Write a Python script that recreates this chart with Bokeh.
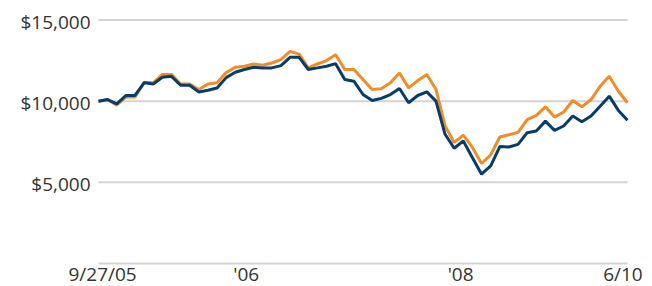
from bokeh.plotting import figure
from bokeh.models import Range1d, ColumnDataSource, Label
from bokeh.embed import file_html
from bokeh.resources import INLINE

# Growth of $10,000 (monthly points)
fund = [10000, 10100, 9830, 10350, 10350, 11130, 11060, 11470, 11530, 10980,
        10980, 10570, 10670, 10810, 11450, 11780, 11950, 12090, 12050, 12050,
        12190, 12700, 12700, 11950, 12050, 12150, 12310, 11330, 11230, 10410,
        10040, 10170, 10410, 10780, 9900, 10350, 10570, 10000, 7960, 7100,
        7550, 6520, 5500, 6010, 7200, 7180, 7340, 8060, 8160, 8770,
        8200, 8470, 9080, 8730, 9080, 9690, 10310, 9430, 8820]
index = [10000, 10100, 9750, 10250, 10250, 11170, 11130, 11650, 11650, 11060,
         11060, 10720, 11060, 11130, 11760, 12090, 12150, 12290, 12210, 12350,
         12560, 13070, 12900, 12050, 12290, 12500, 12860, 11950, 11950, 11330,
         10720, 10760, 11130, 11740, 10820, 11270, 11640, 10720, 8470, 7460,
         7910, 7150, 6160, 6690, 7790, 7930, 8080, 8870, 9120, 9650,
         9020, 9330, 10040, 9650, 10100, 10920, 11530, 10610, 9900]
period = list(range(len(fund)))

x_tick_pos = [0.45, 16.2, 39.7, 57.5]
x_tick_labels = ["9/27/05", "'06", "'08", "6/10"]
y_ticks = [5000, 10000, 15000]
y_tick_labels = ["$5,000", "$10,000", "$15,000"]

W, H = 646, 286
left, right_px, base_px, top15_px = 98, 627, 263, 19.5
last = len(fund) - 1
sx = (right_px - left) / last            # px per period
sy = (base_px - top15_px) / 15000        # px per dollar

src = ColumnDataSource(dict(period=period, fund=fund, index=index))

p = figure(width=W, height=H, output_backend="svg", toolbar_location=None,
           x_range=Range1d(-left / sx, (W - left) / sx),
           y_range=Range1d(-(H - base_px) / sy, base_px / sy),
           min_border=0, x_axis_type=None, y_axis_type=None)
p.outline_line_color = None
p.background_fill_color = "white"
p.xgrid.visible = False
p.ygrid.visible = False

font = "Open Sans"
grid_y = [0] + y_ticks
p.segment(x0=[0] * len(grid_y), x1=[last] * len(grid_y), y0=grid_y, y1=grid_y,
          line_color="#d4d4d4", line_width=2)

p.line("period", "index", source=src, line_color="#F28C28", line_width=3)
p.line("period", "fund", source=src, line_color="#083D6B", line_width=3)

for yv, lab in zip(y_ticks, y_tick_labels):
    p.add_layout(Label(x=0, y=yv, text=lab, text_align="right", text_baseline="middle",
                       x_offset=-8, y_offset=-2, text_font=font,
                       text_font_size="19px", text_color="#333333"))
for pos, lab in zip(x_tick_pos, x_tick_labels):
    p.add_layout(Label(x=pos, y=0, text=lab, text_align="center", text_baseline="middle",
                       y_offset=-10, text_font=font, text_font_size="19px",
                       text_color="#333333"))

open("out.html", "w").write(file_html(p, INLINE))
